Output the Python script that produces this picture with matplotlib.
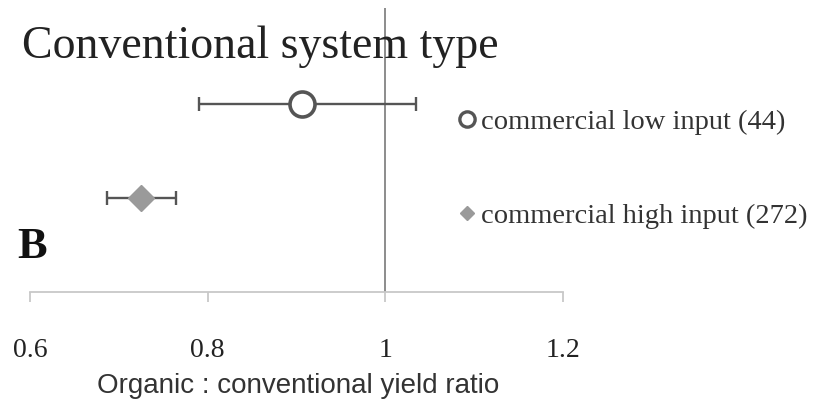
import matplotlib
matplotlib.use('Agg')
import matplotlib.pyplot as plt
from matplotlib.lines import Line2D

# yield ratio estimates with 95% CI
categories = ['commercial low input (44)', 'commercial high input (272)']
ratio = [0.906, 0.725]
ci_low = [0.790, 0.687]
ci_high = [1.035, 0.764]
rows = [1, 0]
xticks = [0.6, 0.8, 1.0, 1.2]
xtick_labels = ['0.6', '0.8', '1', '1.2']

serif = ['Liberation Serif', 'DejaVu Serif']

fig = plt.figure(figsize=(8.35, 4.11), dpi=100)
ax = fig.add_axes([30 / 835, 1 - 292 / 411, 533 / 835, 284 / 411])

ax.axvline(1.0, color='#8c8c8c', lw=1.4, zorder=1)

styles = [dict(marker='o', ms=18, mfc='white', mec='#555555', mew=2.6),
          dict(marker='D', ms=13, mfc='#9a9a9a', mec='#9a9a9a', mew=1)]
for i in range(len(categories)):
    err = [[ratio[i] - ci_low[i]], [ci_high[i] - ratio[i]]]
    ax.errorbar([ratio[i]], [rows[i]], xerr=err, fmt='none', ecolor='#555555',
                elinewidth=1.7, capsize=5, capthick=1.7, zorder=2)
    ax.plot([ratio[i]], [rows[i]], ls='none', zorder=3, **styles[i])

ax.set_xlim(0.6, 1.2)
ax.set_ylim(-1.0, 2.02)
ax.set_xticks(xticks)
ax.set_xticklabels(xtick_labels, fontfamily=serif, fontsize=20)
ax.tick_params(axis='x', direction='out', length=7, width=1.3, color='#c8c8c8',
               pad=26, labelcolor='#222222')
ax.set_yticks([])
for s in ['top', 'right', 'left']:
    ax.spines[s].set_visible(False)
ax.spines['bottom'].set_color('#c8c8c8')
ax.spines['bottom'].set_linewidth(1.3)
ax.patch.set_alpha(0)

fig.text(22 / 835, 1 - 47 / 411, 'Conventional system type', fontfamily=serif,
         fontsize=33, color='#222222', va='center', ha='left')
fig.text(17 / 835, 1 - 247 / 411, 'B', fontfamily=serif, fontsize=32,
         fontweight='bold', color='#111111', va='center', ha='left')
fig.text(298 / 835, 1 - 386 / 411, 'Organic : conventional yield ratio',
         fontfamily=['Liberation Sans', 'DejaVu Sans'], fontsize=20,
         color='#333333', va='center', ha='center')

# legend drawn by hand on the right
leg_y = [119, 213]
leg_ms = [11, 7]
leg_mew = [2.4, 1]
for i in range(len(categories)):
    st = dict(styles[i])
    st['ms'] = leg_ms[i]
    st['mew'] = leg_mew[i]
    fig.lines.append(Line2D([467 / 835], [1 - leg_y[i] / 411],
                     transform=fig.transFigure, ls='none', **st))
    fig.text(481 / 835, 1 - (leg_y[i] + 3) / 411, categories[i], fontfamily=serif,
             fontsize=20.5, color='#333333', va='center', ha='left')

fig.savefig('out.png', dpi=100)
